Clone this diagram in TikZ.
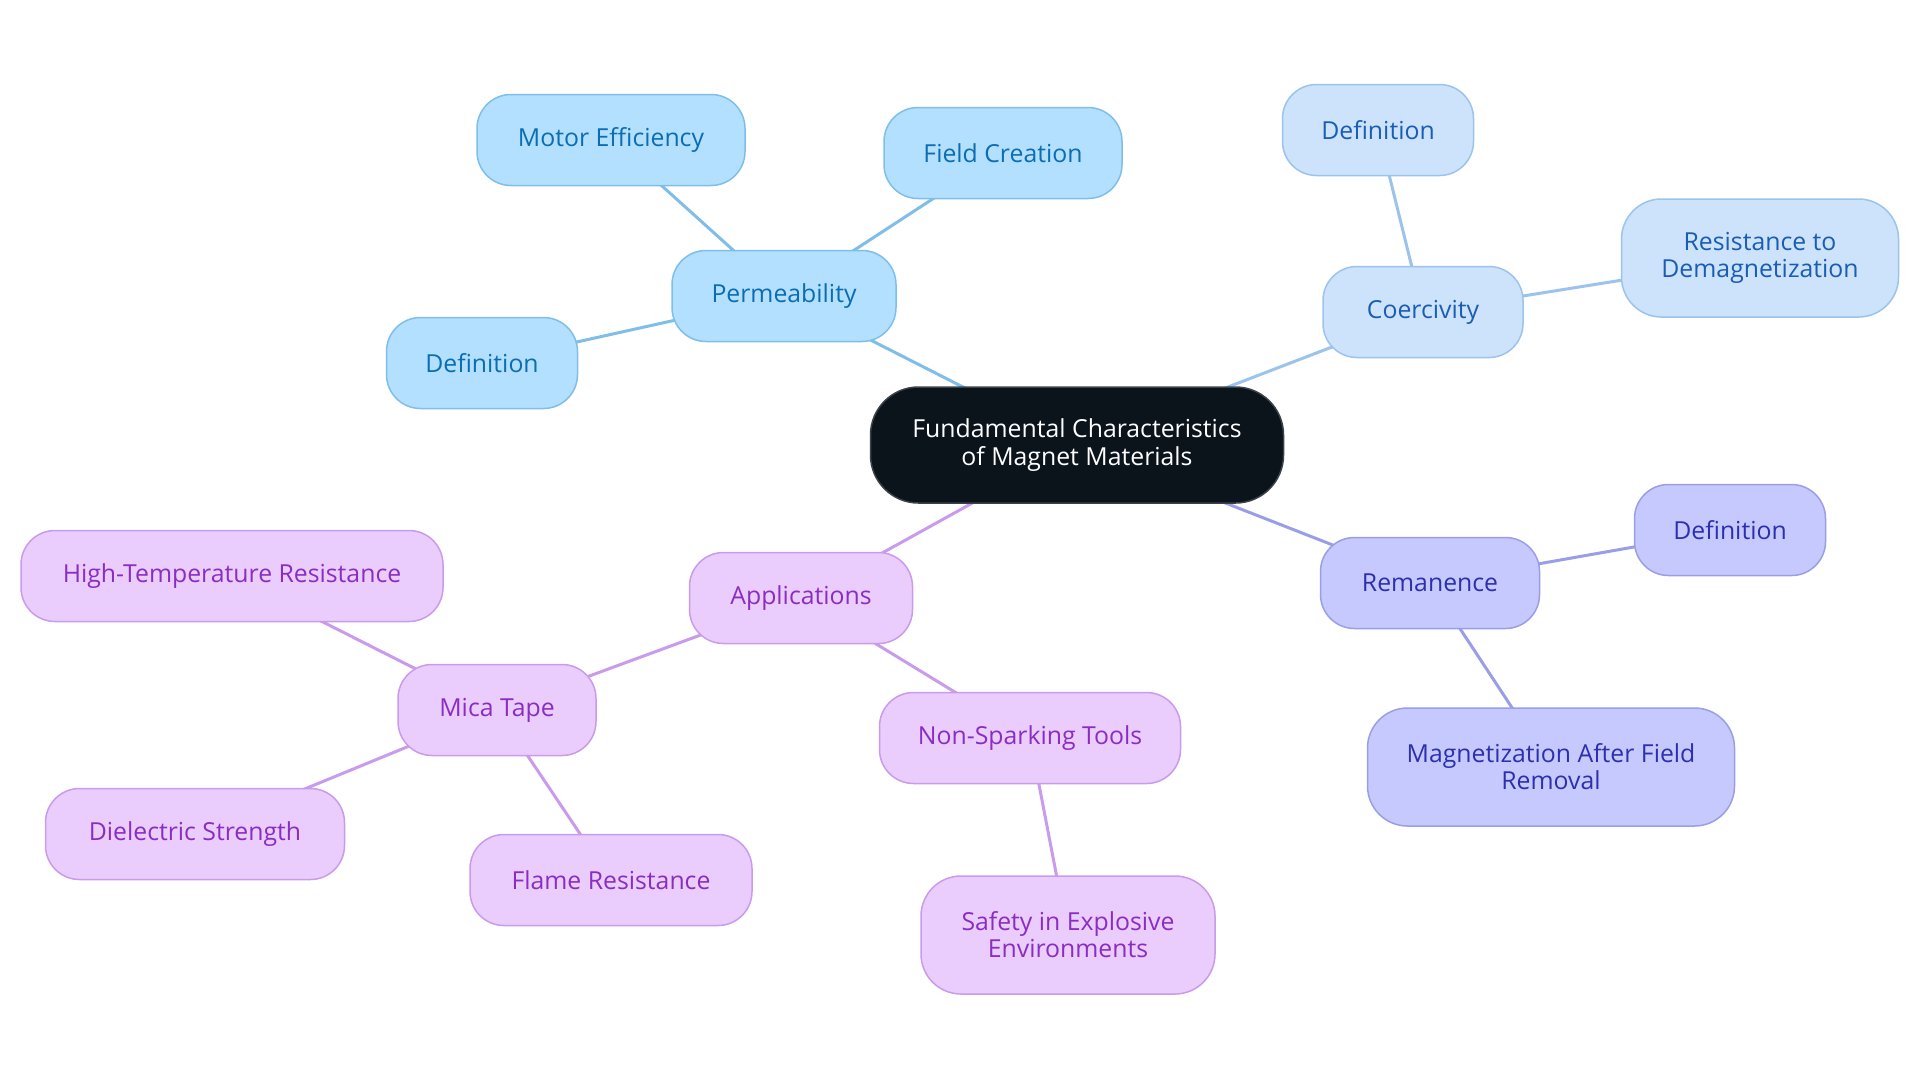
\documentclass[tikz,border=0pt]{standalone}
\usepackage{fontspec}
\setmainfont{Open Sans}
\usetikzlibrary{backgrounds}
\definecolor{rootfill}{HTML}{0B131B}
\definecolor{pfill}{HTML}{B3E0FE}
\definecolor{pline}{HTML}{7FBEE8}
\definecolor{ptext}{HTML}{0B6DB3}
\definecolor{cfill}{HTML}{CCE3FB}
\definecolor{cline}{HTML}{9CC3EC}
\definecolor{ctext}{HTML}{1A5DB3}
\definecolor{rfill}{HTML}{C6C9FD}
\definecolor{rline}{HTML}{9A9EE6}
\definecolor{rtext}{HTML}{2D30AE}
\definecolor{afill}{HTML}{EACCFD}
\definecolor{aline}{HTML}{C89CEA}
\definecolor{atext}{HTML}{8A2EC2}
\tikzset{
  x=0.5pt, y=-0.5pt,
  box/.style={rounded corners=17pt, line width=0.75pt, align=center, inner sep=0pt, font=\fontsize{12.4}{13.6}\selectfont, minimum height=45.5pt},
  tall/.style={minimum height=59pt, rounded corners=20pt},
  rootbox/.style={box, fill=rootfill, draw=rootfill!80!white, text=white, minimum height=58pt, rounded corners=24pt},
  pbox/.style={box, fill=pfill, draw=pline, text=ptext},
  cbox/.style={box, fill=cfill, draw=cline, text=ctext},
  rbox/.style={box, fill=rfill, draw=rline, text=rtext},
  abox/.style={box, fill=afill, draw=aline, text=atext},
  pedge/.style={draw=pline, line width=1.5pt},
  cedge/.style={draw=cline, line width=1.5pt},
  redge/.style={draw=rline, line width=1.5pt},
  aedge/.style={draw=aline, line width=1.5pt},
}
\begin{document}
\begin{tikzpicture}
\useasboundingbox (0,0) rectangle (1920,1083);
\node[rootbox, minimum width=206.5pt] (root) at (1077,445) {Fundamental Characteristics\\of Magnet Materials};
\node[pbox, minimum width=112pt] (perm) at (784,296) {Permeability};
\node[pbox, minimum width=134pt] (motor) at (611,140) {Motor Efficiency};
\node[pbox, minimum width=119pt] (field) at (1003,153) {Field Creation};
\node[pbox, minimum width=95.5pt] (pdef) at (482,363) {Definition};
\node[cbox, minimum width=100pt] (coer) at (1423,312) {Coercivity};
\node[cbox, minimum width=95.5pt] (cdef) at (1378,130) {Definition};
\node[cbox, tall, minimum width=138.5pt] (resist) at (1760,258) {Resistance to\\Demagnetization};
\node[rbox, minimum width=109.5pt] (rem) at (1430,583) {Remanence};
\node[rbox, minimum width=95.5pt] (rdef) at (1730,530) {Definition};
\node[rbox, tall, minimum width=183.5pt] (magn) at (1551,767) {Magnetization After Field\\Removal};
\node[abox, minimum width=111.5pt] (app) at (801,598) {Applications};
\node[abox, minimum width=99pt] (mica) at (497,710) {Mica Tape};
\node[abox, minimum width=211pt] (hightemp) at (232,576) {High-Temperature Resistance};
\node[abox, minimum width=149.5pt] (diel) at (195,834) {Dielectric Strength};
\node[abox, minimum width=141pt] (flame) at (611,880) {Flame Resistance};
\node[abox, minimum width=150.5pt] (nonspark) at (1030,738) {Non-Sparking Tools};
\node[abox, tall, minimum width=147pt] (safety) at (1068,935) {Safety in Explosive\\Environments};
\begin{pgfonlayer}{background}
\draw[pedge] (root.center) -- (perm.center);
\draw[pedge] (perm.center) -- (motor.center);
\draw[pedge] (perm.center) -- (field.center);
\draw[pedge] (perm.center) -- (pdef.center);
\draw[cedge] (root.center) -- (coer.center);
\draw[cedge] (coer.center) -- (cdef.center);
\draw[cedge] (coer.center) -- (resist.center);
\draw[redge] (root.center) -- (rem.center);
\draw[redge] (rem.center) -- (rdef.center);
\draw[redge] (rem.center) -- (magn.center);
\draw[aedge] (root.center) -- (app.center);
\draw[aedge] (app.center) -- (mica.center);
\draw[aedge] (app.center) -- (nonspark.center);
\draw[aedge] (mica.center) -- (hightemp.center);
\draw[aedge] (mica.center) -- (diel.center);
\draw[aedge] (mica.center) -- (flame.center);
\draw[aedge] (nonspark.center) -- (safety.center);
\end{pgfonlayer}
\end{tikzpicture}
\end{document}
